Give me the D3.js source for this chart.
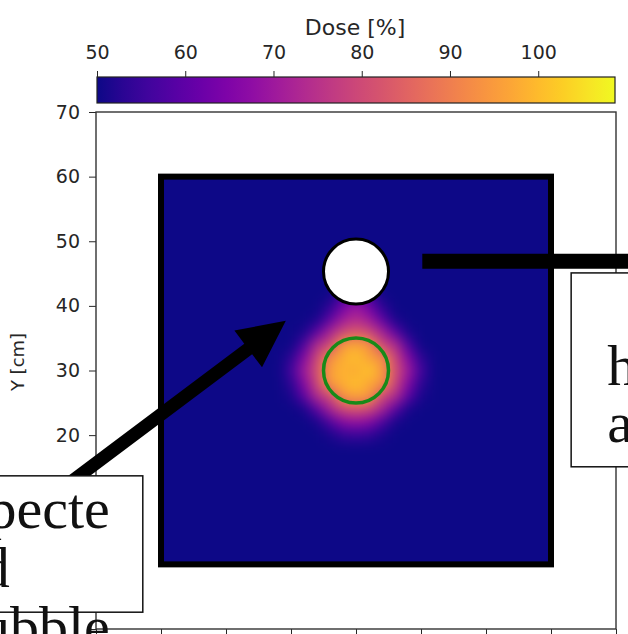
<!DOCTYPE html>
<html>
<head>
<meta charset="utf-8">
<script src="https://cdn.jsdelivr.net/npm/d3@7"></script>
<style>
    body { margin: 0; background: #fff; overflow: hidden; }
    svg { display: block; }
    .tick text { font-family: "DejaVu Sans", sans-serif; fill: #262626; }
    .tick line { stroke: #262626; }
</style>
</head>
<body>
<svg id="chart" width="628" height="634"></svg>
<script>
// colour range of the dose map
var doseMin = 50;
var doseMax = 108.7;
var cbTicks = [50, 60, 70, 80, 90, 100];
var axisTicks = [-10, 0, 10, 20, 30, 40, 50, 60, 70];
var yLabelTicks = [20, 30, 40, 50, 60, 70];   // the rest sit under the text box

// phantom and structures, cm
var phantomX = [0, 60];
var phantomY = [0, 60];
var bubble = {x: 30, y: 45.3, r: 5};
var target = {x: 30, y: 30, r: 5};

// dose [%], 2 cm cells, rows from top (y=42) to bottom (y=20)
var gridX = [20, 22, 24, 26, 28, 30, 32, 34, 36, 38, 40];
var gridY = [42, 40, 38, 36, 34, 32, 30, 28, 26, 24, 22, 20];
var dose = [
    [50, 50, 50, 50, 56, 62, 56, 50, 50, 50, 50],
    [50, 50, 50, 53, 63, 69, 63, 53, 50, 50, 50],
    [50, 50, 51, 60, 70, 74, 70, 60, 51, 50, 50],
    [50, 51, 60, 72, 80, 83, 80, 72, 60, 51, 50],
    [50, 58, 74, 80, 95, 97, 94, 80, 74, 58, 50],
    [53, 66, 80, 93, 98, 101, 96, 93, 80, 66, 53],
    [56, 70, 82, 96, 99, 97, 102, 95, 82, 70, 56],
    [53, 66, 80, 95, 98, 101, 97, 94, 80, 66, 53],
    [51, 60, 74, 80, 94, 96, 95, 80, 74, 60, 51],
    [50, 51, 60, 72, 80, 82, 80, 72, 60, 51, 50],
    [50, 50, 51, 58, 66, 68, 66, 58, 51, 50, 50],
    [50, 50, 50, 51, 54, 55, 54, 51, 50, 50, 50]
];

// annotations (cm)
var expectedArrow = {tail: [-15.5, 11.5], tip: [19.2, 37.7]};
var realLine = {from: [40.2, 46.9], to: [80, 46.9]};
var expectedBox = {x0: -26, x1: -2.8, y0: -7.4, y1: 13.7,
    lines: [{t: "Expecte", dx: -33, y: 528}, {t: "d", dx: -133, y: 587}, {t: "bubble", dx: -33, y: 646}]};
var realBox = {x0: 63.1, x1: 85, y0: 15.1, y1: 45.1,
    lines: [{t: "Real", dx: 56, y: 328}, {t: "hole", dx: 36, y: 385}, {t: "area", dx: 36, y: 442}]};

var svg = d3.select("#chart");

var x = d3.scaleLinear().domain([-10, 70]).range([96, 616]);
var y = d3.scaleLinear().domain([-10, 70]).range([629, 112]);
var color = d3.scaleSequential(d3.interpolatePlasma).domain([doseMin, doseMax]).clamp(true);

/* colour bar */
var cb = d3.scaleLinear().domain([doseMin, doseMax]).range([97, 615]);
var defs = svg.append("defs");
var grad = defs.append("linearGradient").attr("id", "cbgrad");
d3.range(0, 1.0001, 0.05).forEach(function (t) {
    grad.append("stop").attr("offset", t).attr("stop-color", d3.interpolatePlasma(t));
});
svg.append("rect")
    .attr("x", cb(doseMin)).attr("y", 77)
    .attr("width", cb(doseMax) - cb(doseMin)).attr("height", 26)
    .attr("fill", "url(#cbgrad)")
    .attr("stroke", "#222").attr("stroke-width", 1.2);
svg.append("g")
    .attr("transform", "translate(0,77)")
    .call(d3.axisTop(cb).tickValues(cbTicks).tickSize(6).tickPadding(12))
    .call(function (g) { g.select(".domain").remove(); })
    .selectAll("text").style("font-size", "19px");
svg.append("text")
    .attr("x", 355).attr("y", 35)
    .attr("text-anchor", "middle")
    .style("font-family", "DejaVu Sans").style("font-size", "22px").style("fill", "#262626")
    .text("Dose [%]");

/* axes */
svg.append("g")
    .attr("transform", "translate(96,0)")
    .call(d3.axisLeft(y).tickValues(axisTicks).tickSize(7).tickPadding(9)
        .tickFormat(function (d) { return yLabelTicks.indexOf(d) >= 0 ? d : ""; }))
    .call(function (g) { g.select(".domain").remove(); })
    .selectAll("text").style("font-size", "19px");
svg.append("g")
    .attr("transform", "translate(0,629)")
    .call(d3.axisBottom(x).tickValues(axisTicks).tickSize(6).tickFormat(""))
    .call(function (g) { g.select(".domain").remove(); });
svg.append("rect")
    .attr("x", x(-10)).attr("y", y(70))
    .attr("width", x(70) - x(-10)).attr("height", y(-10) - y(70))
    .attr("fill", "none").attr("stroke", "#333").attr("stroke-width", 1.4);
svg.append("text")
    .attr("transform", "translate(24,362) rotate(-90)")
    .attr("text-anchor", "middle")
    .style("font-family", "DejaVu Sans").style("font-size", "18px").style("fill", "#262626")
    .text("Y [cm]");

/* dose map */
var blur = defs.append("filter").attr("id", "blur")
    .attr("color-interpolation-filters", "sRGB")
    .attr("x", "-10%").attr("y", "-10%").attr("width", "120%").attr("height", "120%");
blur.append("feGaussianBlur").attr("stdDeviation", 6.5);
defs.append("clipPath").attr("id", "phantomClip").append("rect")
    .attr("x", x(phantomX[0])).attr("y", y(phantomY[1]))
    .attr("width", x(phantomX[1]) - x(phantomX[0])).attr("height", y(phantomY[0]) - y(phantomY[1]));

var cells = [];
dose.forEach(function (row, j) {
    row.forEach(function (v, i) {
        cells.push({x: gridX[i], y: gridY[j], v: v});
    });
});
var map = svg.append("g")
    .attr("clip-path", "url(#phantomClip)")
    .append("g")
    .attr("filter", "url(#blur)");
// background below 50 % (padded so the blur has no edge inside the phantom)
map.append("rect")
    .attr("x", x(phantomX[0] - 4)).attr("y", y(phantomY[1] + 4))
    .attr("width", x(phantomX[1] + 4) - x(phantomX[0] - 4))
    .attr("height", y(phantomY[0] - 4) - y(phantomY[1] + 4))
    .attr("fill", color(doseMin));
map.selectAll("rect.cell")
    .data(cells)
    .enter().append("rect")
    .attr("class", "cell")
    .attr("x", function (d) { return x(d.x - 1); })
    .attr("y", function (d) { return y(d.y + 1); })
    .attr("width", x(2) - x(0) + 0.5)
    .attr("height", y(0) - y(2) + 0.5)
    .attr("fill", function (d) { return color(d.v); });

// phantom outline
svg.append("rect")
    .attr("x", x(phantomX[0])).attr("y", y(phantomY[1]))
    .attr("width", x(phantomX[1]) - x(phantomX[0])).attr("height", y(phantomY[0]) - y(phantomY[1]))
    .attr("fill", "none").attr("stroke", "#000").attr("stroke-width", 6);

// bubble and target
svg.append("circle")
    .attr("cx", x(bubble.x)).attr("cy", y(bubble.y)).attr("r", x(bubble.r) - x(0))
    .attr("fill", "#fff").attr("stroke", "#000").attr("stroke-width", 3);
svg.append("circle")
    .attr("cx", x(target.x)).attr("cy", y(target.y)).attr("r", x(target.r) - x(0))
    .attr("fill", "none").attr("stroke", "#188a18").attr("stroke-width", 3.5);

/* annotations */
function arrowPath(a) {
    var x0 = x(a.tail[0]), y0 = y(a.tail[1]), x1 = x(a.tip[0]), y1 = y(a.tip[1]);
    var len = Math.hypot(x1 - x0, y1 - y0);
    var ux = (x1 - x0) / len, uy = (y1 - y0) / len, nx = -uy, ny = ux;
    var sw = 6.5, hw = 23, hl = 47;
    var bx = x1 - ux * hl, by = y1 - uy * hl;
    var p = [
        [x0 + nx * sw, y0 + ny * sw], [bx + nx * sw, by + ny * sw], [bx + nx * hw, by + ny * hw],
        [x1, y1],
        [bx - nx * hw, by - ny * hw], [bx - nx * sw, by - ny * sw], [x0 - nx * sw, y0 - ny * sw]
    ];
    return "M" + p.join("L") + "Z";
}
svg.append("path").attr("d", arrowPath(expectedArrow)).attr("fill", "#000");
svg.append("line")
    .attr("x1", x(realLine.from[0])).attr("y1", y(realLine.from[1]))
    .attr("x2", x(realLine.to[0])).attr("y2", y(realLine.to[1]))
    .attr("stroke", "#000").attr("stroke-width", 15);

[expectedBox, realBox].forEach(function (b, k) {
    svg.append("rect")
        .attr("x", x(b.x0)).attr("y", y(b.y1))
        .attr("width", x(b.x1) - x(b.x0)).attr("height", y(b.y0) - y(b.y1))
        .attr("fill", "#fff").attr("stroke", "#111").attr("stroke-width", 1.5);
    var ref = k === 0 ? x(b.x1) : x(b.x0);
    svg.selectAll(null)
        .data(b.lines)
        .enter().append("text")
        .attr("x", function (d) { return ref + d.dx; })
        .attr("y", function (d) { return d.y; })
        .attr("text-anchor", k === 0 ? "end" : "start")
        .style("font-family", "Liberation Serif, serif")
        .style("font-size", "58px")
        .style("fill", "#111")
        .text(function (d) { return d.t; });
});
</script>
</body>
</html>
